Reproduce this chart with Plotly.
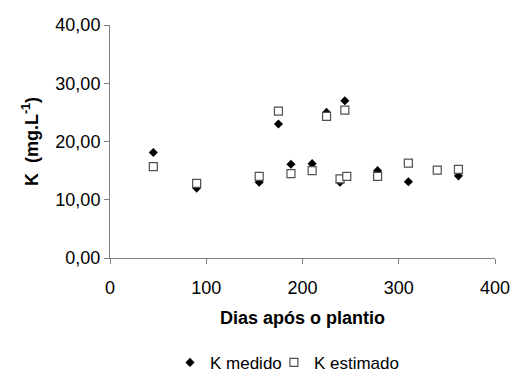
import plotly.graph_objects as go

# Potássio medido e estimado ao longo do ciclo
dias_medido = [45, 90, 155, 175, 188, 210, 225, 239, 244, 278, 310, 362]
k_medido = [18.1, 12.0, 13.0, 23.0, 16.1, 16.2, 25.0, 13.0, 27.0, 15.0, 13.1, 14.1]

dias_estimado = [45, 90, 155, 175, 188, 210, 225, 239, 244, 246, 278, 310, 340, 362]
k_estimado = [15.7, 12.8, 14.0, 25.2, 14.5, 15.0, 24.3, 13.6, 25.4, 14.0, 14.0, 16.3, 15.1, 15.2]

x_ticks = [0, 100, 200, 300, 400]
y_ticks = [0, 10, 20, 30, 40]

FONT = "Liberation Sans, Arial, sans-serif"
AXIS = "#808080"

fig = go.Figure()
fig.add_trace(go.Scatter(
    x=dias_medido, y=k_medido, mode="markers", name="K medido", legend="legend",
    marker=dict(symbol="diamond", size=7, color="black", line=dict(width=0)),
))
fig.add_trace(go.Scatter(
    x=dias_estimado, y=k_estimado, mode="markers", name="K estimado", legend="legend2",
    marker=dict(symbol="square", size=8, color="white", line=dict(width=1.2, color="#505050")),
))

legend_style = dict(
    orientation="h", xref="container", yref="container",
    xanchor="left", y=0.035, yanchor="middle",
    font=dict(size=17, color="black"), itemwidth=30, bgcolor="rgba(0,0,0,0)",
)

fig.update_layout(
    width=512, height=376,
    margin=dict(l=110, r=17, t=25, b=118),
    paper_bgcolor="white", plot_bgcolor="white",
    separators=",.",
    font=dict(family=FONT, size=18, color="black"),
    showlegend=True,
    legend=dict(x=0.332, **legend_style),
    legend2=dict(x=0.535, **legend_style),
    xaxis=dict(
        range=[0, 400], tickvals=x_ticks, tickformat="d", automargin=False,
        showline=True, linecolor=AXIS, linewidth=1,
        ticks="outside", ticklen=5, tickcolor=AXIS, ticklabelstandoff=8,
        showgrid=False, zeroline=False,
        title=dict(text="<b>Dias após o plantio</b>", font=dict(size=18), standoff=14),
    ),
    yaxis=dict(
        range=[0, 40], tickvals=y_ticks, tickformat=".2f", automargin=True,
        ticksuffix="\u00a0\u00a0",
        showline=True, linecolor=AXIS, linewidth=1,
        ticks="outside", ticklen=5, tickcolor=AXIS,
        showgrid=False, zeroline=False,
        title=dict(text="<b>K  (mg.L<sup>-1</sup>)</b>", font=dict(size=18), standoff=12),
    ),
)

fig.write_html("out.html")
